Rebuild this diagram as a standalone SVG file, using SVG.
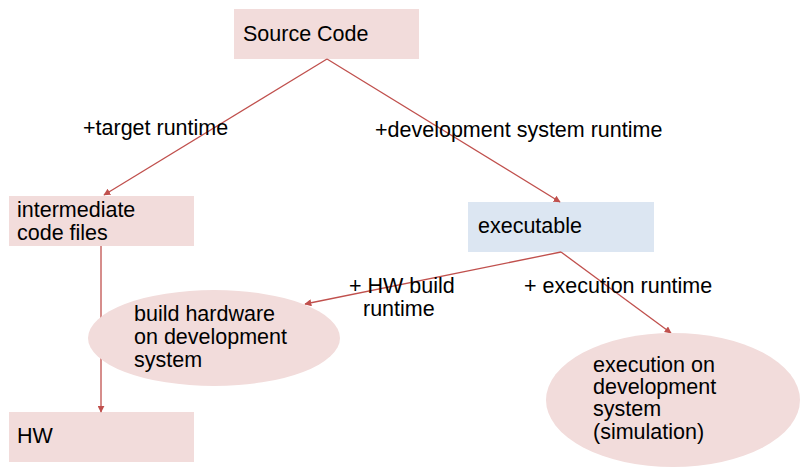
<svg xmlns="http://www.w3.org/2000/svg" width="808" height="475" viewBox="0 0 808 475">
<style>
.pink{fill:#f2dcdb}
.blue{fill:#dce6f2}
text{font-family:"Liberation Sans",Arial,sans-serif;font-size:21.5px;fill:#000}
.c{stroke:#c0504d;stroke-width:1.3;fill:none;marker-end:url(#ah)}
</style>
<defs>
<marker id="ah" viewBox="0 0 10 10" refX="9" refY="5" markerWidth="7" markerHeight="7" orient="auto" markerUnits="userSpaceOnUse">
<path d="M0,0 L10,5 L0,10 z" fill="#c0504d"/>
</marker>
</defs>
<g id="source"><rect class="pink" x="234" y="9" width="185" height="50"/><text x="243" y="41">Source Code</text></g>
<g id="intermediate"><rect class="pink" x="9" y="196" width="185" height="50"/><text x="17" y="217">intermediate</text><text x="17" y="240">code files</text></g>
<g id="executable"><rect class="blue" x="468" y="202" width="186" height="50"/><text x="478" y="233">executable</text></g>
<g id="hw"><rect class="pink" x="9" y="412" width="185" height="50"/><text x="17" y="443">HW</text></g>
<g id="connectors">
<line class="c" x1="327" y1="59" x2="104" y2="195"/>
<line class="c" x1="327" y1="59" x2="560" y2="202"/>
<line class="c" x1="101" y1="246" x2="101" y2="412"/>
<line class="c" x1="561" y1="252" x2="305" y2="304"/>
<line class="c" x1="561" y1="252" x2="671" y2="333"/>
</g>
<g id="build"><ellipse class="pink" cx="214" cy="338" rx="126" ry="48"/><text x="134" y="321">build hardware</text><text x="134" y="344">on development</text><text x="134" y="367">system</text></g>
<g id="execution"><ellipse class="pink" cx="673" cy="400" rx="127" ry="67"/><text x="593" y="372">execution on</text><text x="593" y="394">development</text><text x="593" y="416">system</text><text x="593" y="439">(simulation)</text></g>
<g id="labels">
<text x="83" y="135">+target runtime</text>
<text x="375" y="137">+development system runtime</text>
<text x="349" y="293">+ HW build</text>
<text x="363" y="316">runtime</text>
<text x="524" y="293">+ execution runtime</text>
</g>
</svg>
